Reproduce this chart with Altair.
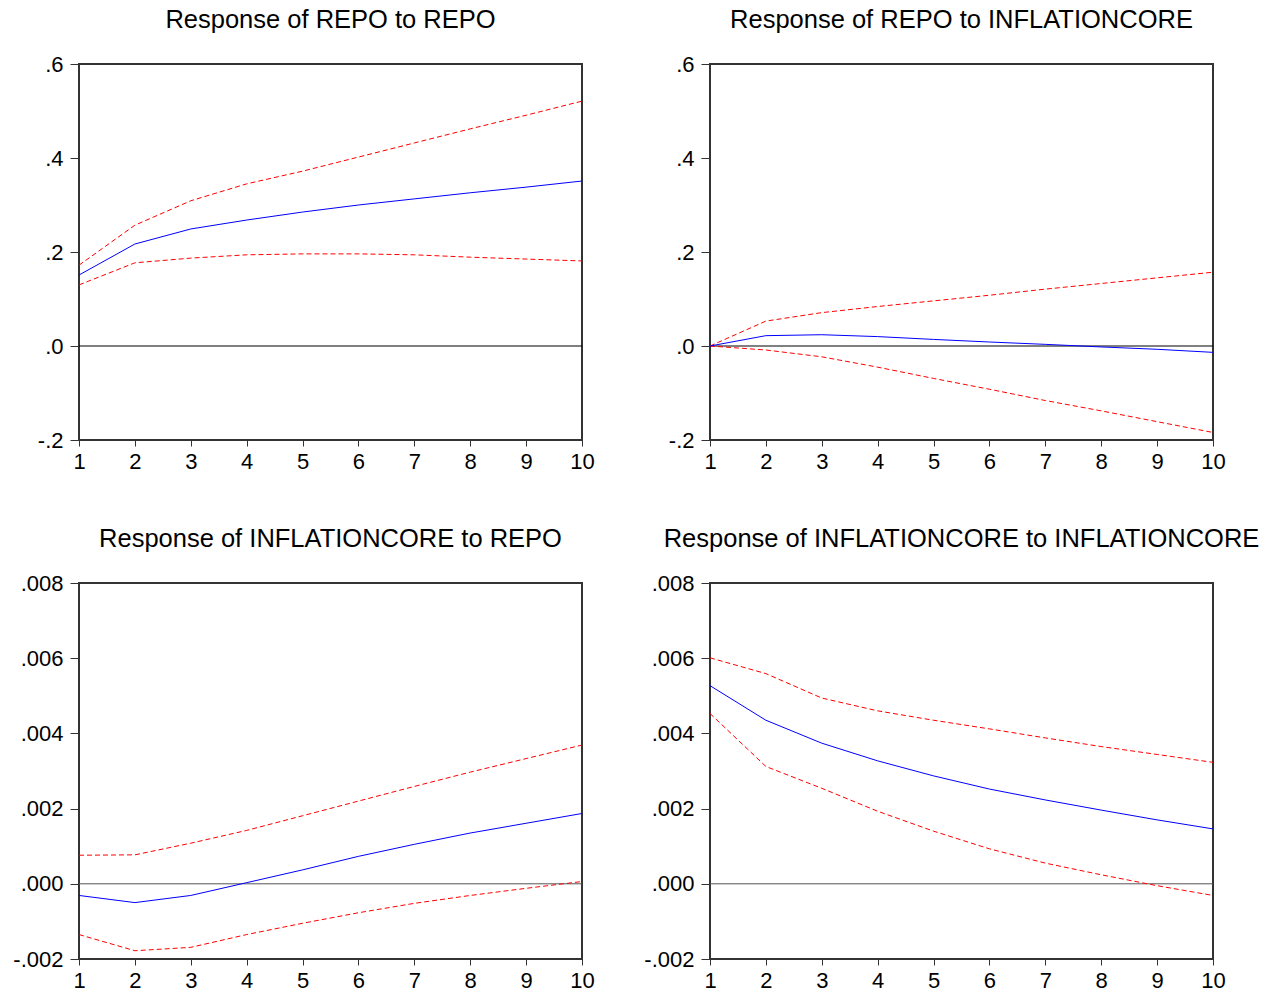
import altair as alt
import pandas as pd

steps = list(range(1, 11))

# Response of REPO to REPO
rr_irf = [0.151, 0.217, 0.249, 0.268, 0.285, 0.300, 0.313, 0.326, 0.338, 0.351]
rr_hi = [0.172, 0.257, 0.309, 0.345, 0.372, 0.402, 0.432, 0.462, 0.491, 0.521]
rr_lo = [0.130, 0.177, 0.187, 0.194, 0.196, 0.196, 0.194, 0.189, 0.185, 0.181]

# Response of REPO to INFLATIONCORE
ri_irf = [0.0, 0.022, 0.024, 0.020, 0.014, 0.0085, 0.0035, -0.002, -0.007, -0.0135]
ri_hi = [0.0, 0.053, 0.071, 0.084, 0.096, 0.108, 0.121, 0.133, 0.145, 0.157]
ri_lo = [0.0, -0.0085, -0.023, -0.045, -0.069, -0.092, -0.116, -0.138, -0.161, -0.184]

# Response of INFLATIONCORE to REPO
ir_irf = [-0.00031, -0.00050, -0.00031, 0.00003, 0.00037, 0.00073, 0.00105, 0.00135, 0.00161, 0.00187]
ir_hi = [0.00076, 0.00077, 0.00108, 0.00142, 0.00181, 0.00220, 0.00259, 0.00297, 0.00333, 0.00369]
ir_lo = [-0.00135, -0.00178, -0.00169, -0.00135, -0.00105, -0.00077, -0.00052, -0.00031, -0.00012, 0.00006]

# Response of INFLATIONCORE to INFLATIONCORE
ii_irf = [0.00527, 0.00435, 0.00374, 0.00327, 0.00287, 0.00252, 0.00223, 0.00196, 0.00170, 0.00146]
ii_hi = [0.00601, 0.00559, 0.00494, 0.00460, 0.00435, 0.00412, 0.00388, 0.00365, 0.00344, 0.00323]
ii_lo = [0.00453, 0.00312, 0.00254, 0.00193, 0.00140, 0.00093, 0.00055, 0.00024, -0.00005, -0.00031]

titles = [
    "Response of REPO to REPO",
    "Response of REPO to INFLATIONCORE",
    "Response of INFLATIONCORE to REPO",
    "Response of INFLATIONCORE to INFLATIONCORE",
]
top_ticks = [-0.2, 0.0, 0.2, 0.4, 0.6]
bottom_ticks = [-0.002, 0.0, 0.002, 0.004, 0.006, 0.008]

FONT = "Liberation Sans"


def make_panel(title, irf, lo, hi, ticks, decimals, zero_color):
    df = pd.DataFrame({
        "step": steps * 3,
        "value": irf + lo + hi,
        "series": ["irf"] * 10 + ["lower"] * 10 + ["upper"] * 10,
    })
    fmt = "." + str(decimals) + "f"
    label_expr = (
        "(datum.value < -1e-12 ? '-' : '') + "
        "replace(format(abs(datum.value), '" + fmt + "'), '0.', '.')"
    )
    x = alt.X(
        "step:Q",
        scale=alt.Scale(domain=[1, 10], nice=False, zero=False),
        axis=alt.Axis(values=steps, title=None, tickSize=6, labelPadding=5,
                      labelFlush=False, format="d", grid=False, domain=False,
                      labelFont=FONT, labelFontSize=22, labelColor="black",
                      tickColor="#333333"),
    )
    y = alt.Y(
        "value:Q",
        scale=alt.Scale(domain=[ticks[0], ticks[-1]], nice=False, zero=False),
        axis=alt.Axis(values=ticks, title=None, tickSize=9, labelPadding=7,
                      labelFlush=False, labelExpr=label_expr, grid=False,
                      domain=False, labelFont=FONT, labelFontSize=22,
                      labelColor="black", tickColor="#333333",
                      minExtent=78, maxExtent=78),
    )
    base = alt.Chart(df)
    zero = alt.Chart(pd.DataFrame({"z": [0]})).mark_rule(
        color=zero_color, strokeWidth=1
    ).encode(y=alt.datum(0))
    bands = base.transform_filter(alt.datum.series != "irf").mark_line(
        color="#ff0000", strokeWidth=1, strokeDash=[5, 3]
    ).encode(x=x, y=y, detail="series:N")
    line = base.transform_filter(alt.datum.series == "irf").mark_line(
        color="#0000ff", strokeWidth=1
    ).encode(x=x, y=y)
    return alt.layer(zero, bands, line).properties(
        width=503, height=376,
        title=alt.TitleParams(title, fontSize=25.5, font=FONT, fontWeight="normal",
                              color="black", anchor="middle", offset=20),
    )


p1 = make_panel(titles[0], rr_irf, rr_lo, rr_hi, top_ticks, 1, "black")
p2 = make_panel(titles[1], ri_irf, ri_lo, ri_hi, top_ticks, 1, "black")
p3 = make_panel(titles[2], ir_irf, ir_lo, ir_hi, bottom_ticks, 3, "#555555")
p4 = make_panel(titles[3], ii_irf, ii_lo, ii_hi, bottom_ticks, 3, "#555555")

chart = alt.vconcat(
    alt.hconcat(p1, p2, spacing=35),
    alt.hconcat(p3, p4, spacing=35),
    spacing=52,
).properties(
    padding={"left": 0, "top": 6, "right": 0, "bottom": 0},
    background="white",
).configure_view(
    stroke="#333333", strokeWidth=2
)

chart.save("out.html", embed_options={"renderer": "svg", "actions": False})
